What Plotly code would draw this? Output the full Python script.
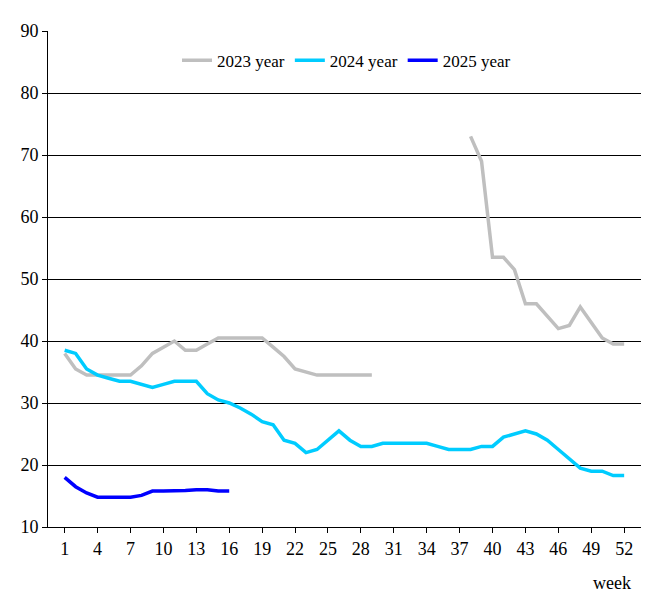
import plotly.graph_objects as go

# Weekly values
weeks = list(range(1, 53))
y2023 = [38, 35.5, 34.5, 34.5, 34.5, 34.5, 34.5, 36, 38, 39, 40, 38.5, 38.5, 39.5, 40.5,
         40.5, 40.5, 40.5, 40.5, 39, 37.5, 35.5, 35, 34.5, 34.5, 34.5, 34.5, 34.5, 34.5,
         None, None, None, None, None, None, None, None,
         73, 69, 53.5, 53.5, 51.5, 46, 46, 44, 42, 42.5, 45.5, 43, 40.5, 39.5, 39.5]
y2024 = [38.5, 38, 35.5, 34.5, 34, 33.5, 33.5, 33, 32.5, 33, 33.5, 33.5, 33.5, 31.5, 30.5,
         30, 29.2, 28.2, 27, 26.5, 24, 23.5, 22, 22.5, 24, 25.5, 24, 23, 23, 23.5,
         23.5, 23.5, 23.5, 23.5, 23, 22.5, 22.5, 22.5, 23, 23, 24.5, 25, 25.5, 25, 24,
         22.5, 21, 19.5, 19, 19, 18.3, 18.3]
y2025 = [18, 16.5, 15.5, 14.8, 14.8, 14.8, 14.8, 15.1, 15.8, 15.8, 15.8, 15.9, 16, 16,
         15.8, 15.8]

# Create figure with one line per year
fig = go.Figure()

fig.add_trace(go.Scatter(x=weeks, y=y2023, mode='lines', name='2023 year',
                         line=dict(color='#BFBFBF', width=3.5)))
fig.add_trace(go.Scatter(x=weeks, y=y2024, mode='lines', name='2024 year',
                         line=dict(color='#00CCFF', width=3.5)))
fig.add_trace(go.Scatter(x=weeks[:16], y=y2025, mode='lines', name='2025 year',
                         line=dict(color='#0000FF', width=3.5)))

# Customize chart layout
fig.update_layout(
    width=649, height=603,
    plot_bgcolor='white', paper_bgcolor='white',
    font=dict(family='Liberation Serif', size=18, color='black'),
    margin=dict(l=40, r=12, t=23, b=84),
    legend=dict(orientation='h', x=0.5, xanchor='center', y=0.94, yanchor='middle',
                bgcolor='rgba(0,0,0,0)', font=dict(size=17)),
    showlegend=True,
)
fig.update_xaxes(range=[-0.52, 53.9], tickvals=list(range(1, 53, 3)), showgrid=False,
                 showline=True, linecolor='black', ticks='outside', ticklen=5,
                 tickcolor='black', zeroline=False)
fig.update_yaxes(range=[10, 90], dtick=10, showgrid=True, gridcolor='black', gridwidth=1,
                 showline=True, linecolor='black', ticks='outside', ticklen=5,
                 tickcolor='black', zeroline=False)
fig.add_annotation(text='week', x=0.98, xref='paper', xanchor='right', y=-0.113,
                   yref='paper', yanchor='middle', showarrow=False, font=dict(size=18))

fig.write_html("out.html")
